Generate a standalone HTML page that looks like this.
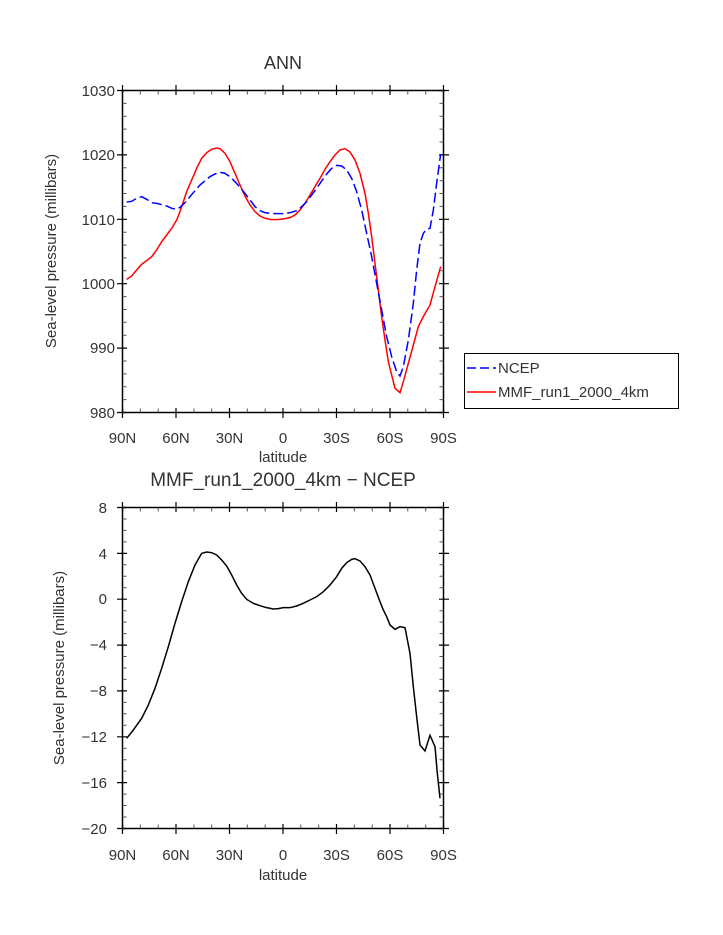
<!DOCTYPE html>
<html><head><meta charset="utf-8"><style>body{margin:0;background:#fff}svg{display:block}text{font-family:"Liberation Sans",sans-serif;fill:#333}</style></head>
<body>
<svg width="723" height="935" viewBox="0 0 723 935" xmlns="http://www.w3.org/2000/svg">
<text x="283" y="69" font-size="18" text-anchor="middle">ANN</text>
<rect x="122.5" y="90.5" width="321" height="322" fill="none" stroke="#000" stroke-width="1.5"/>
<g stroke="#000" stroke-width="1.2">
<path d="M122.5,85v10M176,85v10M229.5,85v10M283,85v10M336.5,85v10M390,85v10M443.5,85v10M122.5,408v10M176,408v10M229.5,408v10M283,408v10M336.5,408v10M390,408v10M443.5,408v10"/>
<path d="M117,90.5h10M117,154.9h10M117,219.3h10M117,283.7h10M117,348.1h10M117,412.5h10M439,90.5h10M439,154.9h10M439,219.3h10M439,283.7h10M439,348.1h10M439,412.5h10"/>
</g>
<g stroke="#555" stroke-width="1">
<path d="M140.3,90.5v4M158.2,90.5v4M194,90.5v4M211.7,90.5v4M247.3,90.5v4M265.2,90.5v4M300.8,90.5v4M318.7,90.5v4M354.3,90.5v4M372.2,90.5v4M407.8,90.5v4M425.7,90.5v4M140.3,412.5v-4M158.2,412.5v-4M194,412.5v-4M211.7,412.5v-4M247.3,412.5v-4M265.2,412.5v-4M300.8,412.5v-4M318.7,412.5v-4M354.3,412.5v-4M372.2,412.5v-4M407.8,412.5v-4M425.7,412.5v-4"/>
<path d="M122.5,103.4h4M122.5,116.3h4M122.5,129.1h4M122.5,142h4M122.5,167.8h4M122.5,180.7h4M122.5,193.5h4M122.5,206.4h4M122.5,232.2h4M122.5,245.1h4M122.5,257.9h4M122.5,270.8h4M122.5,296.6h4M122.5,309.5h4M122.5,322.3h4M122.5,335.2h4M122.5,361h4M122.5,373.9h4M122.5,386.7h4M122.5,399.6h4M443.5,103.4h-4M443.5,116.3h-4M443.5,129.1h-4M443.5,142h-4M443.5,167.8h-4M443.5,180.7h-4M443.5,193.5h-4M443.5,206.4h-4M443.5,232.2h-4M443.5,245.1h-4M443.5,257.9h-4M443.5,270.8h-4M443.5,296.6h-4M443.5,309.5h-4M443.5,322.3h-4M443.5,335.2h-4M443.5,361h-4M443.5,373.9h-4M443.5,386.7h-4M443.5,399.6h-4"/>
</g>
<g font-size="15" text-anchor="end">
<text x="115" y="96">1030</text><text x="115" y="160">1020</text><text x="115" y="225">1010</text><text x="115" y="289">1000</text><text x="115" y="353">990</text><text x="115" y="418">980</text>
</g>
<g font-size="15" text-anchor="middle">
<text x="122.5" y="443">90N</text><text x="176" y="443">60N</text><text x="229.5" y="443">30N</text><text x="283" y="443">0</text><text x="336.5" y="443">30S</text><text x="390" y="443">60S</text><text x="443.5" y="443">90S</text>
<text x="283" y="462">latitude</text>
</g>
<text transform="translate(56,251) rotate(-90)" font-size="15" text-anchor="middle">Sea-level pressure (millibars)</text>
<g transform="translate(80,50) scale(0.33333)" fill="none" stroke-width="4.5">
<polyline stroke="#ff0000" points="140,688 155,678 170,660 185,643 200,632 215,620 230,600 245,575 260,555 275,535 290,510 300,485 310,455 320,425 335,390 350,355 365,325 380,308 395,298 410,294 420,296 435,310 450,335 465,370 480,405 495,438 510,465 525,485 540,498 555,505 570,508 585,509 600,508 615,506 630,503 645,495 660,480 675,460 690,435 705,410 720,385 735,358 750,335 765,315 780,300 795,296 810,306 825,330 840,370 855,430 865,490 875,560 885,640 895,720 905,800 915,870 925,935 935,975 945,1015 960,1028 970,995 985,940 1000,885 1015,830 1030,800 1050,765 1065,710 1082,650"/>
<polyline stroke="#0000ff" stroke-dasharray="30,12" points="140,456 155,454 170,445 185,440 200,448 215,458 230,460 245,464 260,468 275,475 290,478 300,472 315,458 330,440 345,422 360,405 375,392 390,380 405,372 420,367 435,370 450,380 465,395 480,412 495,430 510,450 525,470 540,482 555,488 570,490 590,491 610,491 630,488 650,482 665,470 680,455 695,435 710,415 725,393 740,372 755,355 770,346 785,348 800,360 815,385 830,425 845,480 860,550 875,620 890,700 905,780 920,860 935,920 950,965 960,978 970,950 985,870 1000,760 1010,660 1020,580 1030,550 1040,538 1050,535 1060,480 1070,400 1082,312"/>
</g>
<rect x="464.5" y="353.5" width="214" height="55" fill="none" stroke="#000" stroke-width="1"/>
<line x1="467" y1="368" x2="496" y2="368" stroke="#0000ff" stroke-width="1.5" stroke-dasharray="9,4"/>
<line x1="467" y1="392" x2="496" y2="392" stroke="#ff0000" stroke-width="1.5"/>
<text x="498" y="373" font-size="15">NCEP</text>
<text x="498" y="397" font-size="15">MMF_run1_2000_4km</text>

<text x="283" y="486" font-size="19" text-anchor="middle">MMF_run1_2000_4km − NCEP</text>
<rect x="122.5" y="507.5" width="321" height="321" fill="none" stroke="#000" stroke-width="1.5"/>
<g stroke="#000" stroke-width="1.2">
<path d="M122.5,502v10M176,502v10M229.5,502v10M283,502v10M336.5,502v10M390,502v10M443.5,502v10M122.5,824v10M176,824v10M229.5,824v10M283,824v10M336.5,824v10M390,824v10M443.5,824v10"/>
<path d="M117,507.5h10M117,553.4h10M117,599.2h10M117,645.1h10M117,690.9h10M117,736.8h10M117,782.6h10M117,828.5h10M439,507.5h10M439,553.4h10M439,599.2h10M439,645.1h10M439,690.9h10M439,736.8h10M439,782.6h10M439,828.5h10"/>
</g>
<g stroke="#555" stroke-width="1">
<path d="M140.3,507.5v4M158.2,507.5v4M194,507.5v4M211.7,507.5v4M247.3,507.5v4M265.2,507.5v4M300.8,507.5v4M318.7,507.5v4M354.3,507.5v4M372.2,507.5v4M407.8,507.5v4M425.7,507.5v4M140.3,828.5v-4M158.2,828.5v-4M194,828.5v-4M211.7,828.5v-4M247.3,828.5v-4M265.2,828.5v-4M300.8,828.5v-4M318.7,828.5v-4M354.3,828.5v-4M372.2,828.5v-4M407.8,828.5v-4M425.7,828.5v-4"/>
<path d="M122.5,519h4M122.5,530.4h4M122.5,541.9h4M122.5,564.8h4M122.5,576.3h4M122.5,587.7h4M122.5,610.7h4M122.5,622.1h4M122.5,633.6h4M122.5,656.5h4M122.5,668h4M122.5,679.4h4M122.5,702.4h4M122.5,713.8h4M122.5,725.3h4M122.5,748.2h4M122.5,759.7h4M122.5,771.1h4M122.5,794.1h4M122.5,805.5h4M122.5,817h4M443.5,519h-4M443.5,530.4h-4M443.5,541.9h-4M443.5,564.8h-4M443.5,576.3h-4M443.5,587.7h-4M443.5,610.7h-4M443.5,622.1h-4M443.5,633.6h-4M443.5,656.5h-4M443.5,668h-4M443.5,679.4h-4M443.5,702.4h-4M443.5,713.8h-4M443.5,725.3h-4M443.5,748.2h-4M443.5,759.7h-4M443.5,771.1h-4M443.5,794.1h-4M443.5,805.5h-4M443.5,817h-4"/>
</g>
<g font-size="15" text-anchor="end">
<text x="107" y="513">8</text><text x="107" y="559">4</text><text x="107" y="604">0</text><text x="107" y="650">−4</text><text x="107" y="696">−8</text><text x="107" y="742">−12</text><text x="107" y="788">−16</text><text x="107" y="834">−20</text>
</g>
<g font-size="15" text-anchor="middle">
<text x="122.5" y="860">90N</text><text x="176" y="860">60N</text><text x="229.5" y="860">30N</text><text x="283" y="860">0</text><text x="336.5" y="860">30S</text><text x="390" y="860">60S</text><text x="443.5" y="860">90S</text>
<text x="283" y="880">latitude</text>
</g>
<text transform="translate(64,668) rotate(-90)" font-size="15" text-anchor="middle">Sea-level pressure (millibars)</text>
<g transform="translate(80,460) scale(0.33333)" fill="none" stroke-width="4.5">
<polyline stroke="#000" points="140,835 160,810 185,775 205,735 225,685 245,625 265,560 285,490 305,425 325,365 345,315 365,280 380,276 395,278 410,285 425,300 440,318 455,345 470,375 485,400 500,418 520,430 540,437 560,443 580,447 595,446 610,443 630,443 650,438 670,430 690,420 710,410 730,395 750,375 770,350 785,325 800,308 815,298 825,296 840,303 855,320 870,345 885,385 900,425 910,450 920,470 930,495 945,508 960,500 975,503 990,580 1000,680 1010,770 1020,855 1035,873 1050,826 1065,860 1072,940 1080,1015"/>
</g>
</svg>
</body></html>
